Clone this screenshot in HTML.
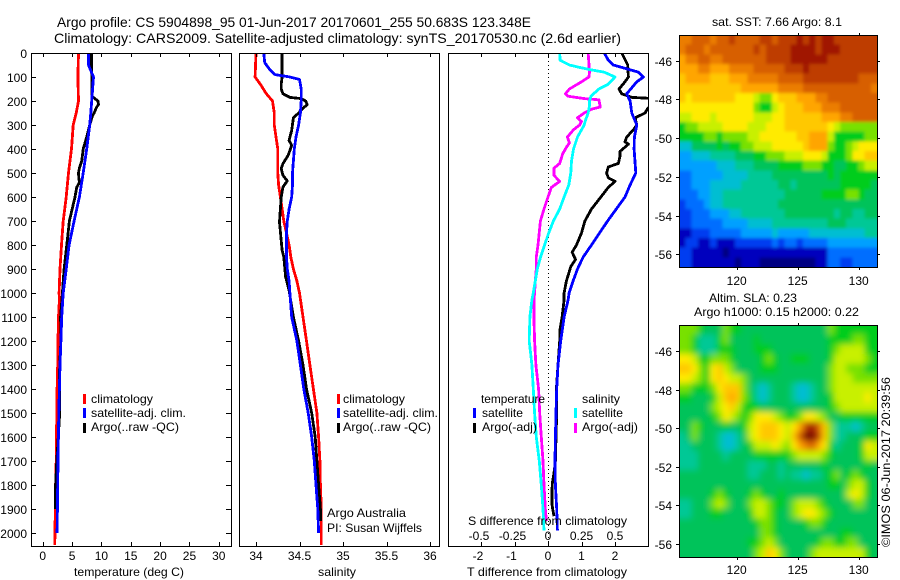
<!DOCTYPE html>
<html>
<head>
<meta charset="utf-8">
<title>Argo profile</title>
<style>
html,body{margin:0;padding:0;background:#fff;}
svg{display:block;}
text{font-family:"Liberation Sans",sans-serif;font-size:12px;fill:#000;}
</style>
</head>
<body>
<svg id="chart" xmlns="http://www.w3.org/2000/svg" width="900" height="580" viewBox="0 0 900 580">
  <defs>
    <clipPath id="clipA"><rect x="31" y="53" width="200" height="493"/></clipPath>
    <clipPath id="clipB"><rect x="239" y="53" width="200" height="493"/></clipPath>
    <clipPath id="clipC"><rect x="448" y="53" width="200" height="493"/></clipPath>
    <clipPath id="clipSst"><rect x="679" y="35" width="198" height="232"/></clipPath>
    <clipPath id="clipSla"><rect x="679" y="325" width="198" height="232"/></clipPath>
    <filter id="sstBlur" filterUnits="userSpaceOnUse" x="655" y="15" width="245" height="275"><feGaussianBlur stdDeviation="1.6"/></filter>
    <filter id="slaBlur" filterUnits="userSpaceOnUse" x="655" y="305" width="245" height="275"><feGaussianBlur stdDeviation="3.2"/></filter>
  </defs>

  <text x="57" y="27" style="font-size:14px" textLength="474" lengthAdjust="spacingAndGlyphs">Argo profile: CS 5904898_95 01-Jun-2017 20170601_255 50.683S 123.348E</text>
  <text x="54" y="43" style="font-size:14px" textLength="567" lengthAdjust="spacingAndGlyphs">Climatology: CARS2009. Satellite-adjusted climatology: synTS_20170530.nc (2.6d earlier)</text>

  <g clip-path="url(#clipSst)"><g id="heatSst" filter="url(#sstBlur)"></g></g>
  <g clip-path="url(#clipSla)"><g id="heatSla" filter="url(#slaBlur)"></g></g>

  <line id="zeroLine" stroke="#000" stroke-width="1" stroke-dasharray="1 3"/>

  <g id="seriesA" clip-path="url(#clipA)"></g>
  <g id="seriesB" clip-path="url(#clipB)"></g>
  <g id="seriesC" clip-path="url(#clipC)"></g>

  <g id="axes" shape-rendering="crispEdges"></g>
  <g id="tickText"></g>

  <text x="74" y="576" textLength="110" lengthAdjust="spacingAndGlyphs">temperature (deg C)</text>
  <text x="318" y="576" textLength="38" lengthAdjust="spacingAndGlyphs">salinity</text>
  <text x="467" y="576" textLength="160" lengthAdjust="spacingAndGlyphs">T difference from climatology</text>
  <text x="468" y="525" textLength="159" lengthAdjust="spacingAndGlyphs">S difference from climatology</text>

  <g>
    <rect x="83" y="394" width="3" height="10" fill="#f00"/>
    <text x="91" y="403" textLength="62" lengthAdjust="spacingAndGlyphs">climatology</text>
    <rect x="83" y="408" width="3" height="10" fill="#00f"/>
    <text x="91" y="417" textLength="95" lengthAdjust="spacingAndGlyphs">satellite-adj. clim.</text>
    <rect x="83" y="423" width="3" height="10" fill="#000"/>
    <text x="91" y="431" textLength="88" lengthAdjust="spacingAndGlyphs">Argo(..raw -QC)</text>
  </g>
  <g>
    <rect x="337" y="394" width="3" height="10" fill="#f00"/>
    <text x="343" y="403" textLength="62" lengthAdjust="spacingAndGlyphs">climatology</text>
    <rect x="337" y="408" width="3" height="10" fill="#00f"/>
    <text x="343" y="417" textLength="95" lengthAdjust="spacingAndGlyphs">satellite-adj. clim.</text>
    <rect x="337" y="423" width="3" height="10" fill="#000"/>
    <text x="343" y="431" textLength="88" lengthAdjust="spacingAndGlyphs">Argo(..raw -QC)</text>
    <text x="327" y="517" textLength="79" lengthAdjust="spacingAndGlyphs">Argo Australia</text>
    <text x="327" y="532" textLength="95" lengthAdjust="spacingAndGlyphs">PI: Susan Wijffels</text>
  </g>
  <g>
    <text x="481" y="403" textLength="64" lengthAdjust="spacingAndGlyphs">temperature</text>
    <rect x="473" y="408" width="3" height="10" fill="#00f"/>
    <text x="482" y="417" textLength="41" lengthAdjust="spacingAndGlyphs">satellite</text>
    <rect x="473" y="423" width="3" height="10" fill="#000"/>
    <text x="482" y="431" textLength="55" lengthAdjust="spacingAndGlyphs">Argo(-adj)</text>
    <text x="582" y="403" textLength="38" lengthAdjust="spacingAndGlyphs">salinity</text>
    <rect x="574" y="408" width="3" height="10" fill="#0ff"/>
    <text x="582" y="417" textLength="41" lengthAdjust="spacingAndGlyphs">satellite</text>
    <rect x="574" y="423" width="3" height="10" fill="#f0f"/>
    <text x="582" y="431" textLength="56" lengthAdjust="spacingAndGlyphs">Argo(-adj)</text>
  </g>

  <text x="712" y="26" textLength="130" lengthAdjust="spacingAndGlyphs">sat. SST: 7.66 Argo: 8.1</text>
  <text x="709" y="302" textLength="88" lengthAdjust="spacingAndGlyphs">Altim. SLA: 0.23</text>
  <text x="694" y="316" textLength="165" lengthAdjust="spacingAndGlyphs">Argo h1000: 0.15 h2000: 0.22</text>
  <text transform="translate(890,547) rotate(-90)" x="0" y="0" textLength="170" lengthAdjust="spacingAndGlyphs">©IMOS 06-Jun-2017 20:39:56</text>
</svg>

<script>
// ---------- Profile data: temperature panel ----------
const depthTicks = [0,100,200,300,400,500,600,700,800,900,1000,1100,1200,1300,1400,1500,1600,1700,1800,1900,2000];
const tempTicks = [0,5,10,15,20,25,30];
const salinityTicks = [34,34.5,35,35.5,36];
const salinityTickText = ['34','34.5','35','35.5','36'];
const tDiffTicks = [-2,-1,0,1,2];
const sDiffTicks = [-0.5,-0.25,0,0.25,0.5];

const tempClimDepth = [0,100,200,250,300,400,450,500,600,700,800,900,1000,1029,1100,1200,1300,1400,1500,1600,1700,1800,1900,2000,2050];
const tempClimValue = [6.1,6.0,6.1,5.7,5.2,4.9,4.65,4.4,4.0,3.5,3.2,2.95,2.8,2.84,2.7,2.6,2.55,2.45,2.4,2.35,2.3,2.2,2.15,2.1,2.05];
const tempSatDepth = [0,50,100,150,200,250,300,400,500,600,700,800,900,1000,1100,1200,1300,1400,1500,1600,1700,1800,1900,2000];
const tempSatValue = [7.8,7.8,8.65,8.5,8.35,8.2,8.0,7.5,6.9,6.25,5.35,4.5,4.0,3.5,3.24,3.1,2.95,2.85,2.75,2.67,2.6,2.55,2.5,2.45];
const tempArgoDepth = [0,100,180,190,200,215,225,250,260,300,350,400,450,480,500,520,540,560,600,700,800,900,1000,1100,1200,1300,1400,1500,1700,1800,1900];
const tempArgoValue = [8.3,8.35,8.35,8.9,9.4,9.5,9.2,8.75,8.5,8.0,7.5,6.9,6.65,6.25,6.1,6.15,6.25,5.8,5.5,4.55,4.1,3.65,3.35,3.05,3.1,2.9,2.85,2.9,2.4,2.2,2.2];

// ---------- Profile data: salinity panel ----------
const salClimDepth = [0,100,130,170,200,250,300,350,400,500,550,600,650,700,750,800,850,900,950,1000,1100,1200,1300,1400,1500,1600,1700,1800,1900,2050];
const salClimValue = [34.0,33.99,34.05,34.12,34.19,34.21,34.21,34.23,34.25,34.25,34.26,34.28,34.3,34.32,34.35,34.38,34.4,34.43,34.47,34.5,34.54,34.58,34.62,34.66,34.7,34.72,34.735,34.74,34.75,34.75];
const salSatDepth = [0,40,70,90,100,110,150,200,250,300,350,400,450,500,550,600,650,700,750,800,850,900,950,1000,1100,1200,1300,1400,1500,1600,1700,1800,1900,2000];
const salSatValue = [34.09,34.1,34.16,34.22,34.39,34.5,34.52,34.52,34.51,34.49,34.46,34.44,34.43,34.42,34.42,34.41,34.38,34.36,34.35,34.35,34.35,34.36,34.38,34.39,34.41,34.47,34.51,34.55,34.6,34.64,34.67,34.69,34.71,34.72];
const salArgoDepth = [0,100,130,150,170,185,190,200,215,230,250,270,322,364,385,426,461,482,510,533,558,600,704,745,822,850,933,989,1058,1100,1200,1300,1400,1500,1600,1700,1800,1900,1950];
const salArgoValue = [34.3,34.3,34.29,34.29,34.31,34.39,34.52,34.57,34.59,34.54,34.49,34.43,34.41,34.38,34.41,34.37,34.31,34.29,34.31,34.36,34.31,34.29,34.27,34.28,34.3,34.32,34.34,34.38,34.41,34.43,34.49,34.54,34.58,34.64,34.68,34.7,34.72,34.74,34.74];

// ---------- Profile data: difference panel ----------
const tDiffSatDepth = [0,30,50,80,100,120,170,200,250,300,350,400,500,550,600,700,800,850,900,950,1000,1029,1100,1200,1300,1400,1500,1600,1700,1800,1900,1990];
const tDiffSatValue = [1.68,1.8,1.95,2.7,2.85,2.65,2.35,2.45,2.5,2.65,2.58,2.57,2.62,2.45,2.3,1.78,1.3,1.05,0.88,0.75,0.63,0.6,0.48,0.38,0.3,0.26,0.24,0.22,0.21,0.22,0.26,0.28];
const tDiffArgoDepth = [0,50,100,120,150,170,185,190,215,230,250,270,300,320,350,370,380,410,430,460,475,500,520,535,560,600,650,700,750,800,830,860,890,950,1000,1029,1100,1150,1200,1300,1400,1500,1600,1700,1750,1790,1820,1880,1900,1930];
const tDiffArgoValue = [2.2,2.38,2.4,2.3,2.12,2.2,2.5,3.2,3.3,2.98,2.9,2.6,2.65,2.55,2.35,2.3,2.4,2.15,2.15,2.1,1.8,1.75,1.8,2.0,1.8,1.58,1.3,1.1,1.0,0.85,0.72,0.82,0.68,0.55,0.48,0.48,0.42,0.36,0.35,0.3,0.25,0.26,0.24,0.22,0.18,0.13,0.12,0.12,0.14,0.18];
const sDiffSatDepth = [0,30,50,60,70,80,100,130,150,180,200,220,250,280,300,350,400,450,500,550,600,650,700,750,800,850,900,950,1000,1029,1100,1200,1250,1300,1400,1500,1600,1700,1800,1900,1990];
const sDiffSatValue = [0.087,0.09,0.16,0.236,0.32,0.42,0.5,0.45,0.38,0.32,0.31,0.31,0.3,0.28,0.27,0.22,0.19,0.175,0.17,0.155,0.12,0.087,0.04,0.005,-0.025,-0.055,-0.08,-0.095,-0.11,-0.12,-0.135,-0.14,-0.13,-0.12,-0.11,-0.1,-0.087,-0.065,-0.05,-0.037,-0.03];
const sDiffArgoDepth = [0,50,80,100,120,150,170,180,190,195,210,225,235,250,270,285,300,320,350,375,390,420,460,480,510,535,560,600,650,700,800,850,900,950,1000,1029,1100,1200,1300,1400,1500,1600,1700,1800,1900,1950];
const sDiffArgoValue = [0.3,0.306,0.31,0.305,0.25,0.16,0.13,0.15,0.27,0.38,0.385,0.39,0.32,0.27,0.22,0.25,0.236,0.19,0.145,0.16,0.14,0.11,0.087,0.045,0.045,0.087,0.025,0,-0.03,-0.057,-0.075,-0.087,-0.087,-0.095,-0.1,-0.105,-0.105,-0.1,-0.09,-0.07,-0.062,-0.05,-0.037,-0.03,-0.02,-0.012];

// ---------- Map data: colour level per 0.5 degree cell, north to south ----------
const lonTicks = [120,125,130];
const latTicks = [46,48,50,52,54,56];
const sstLevels = [
[14,14,15,15,15,14,15,15,16,15,15,15,15,16,16,15,16,16,16,17,16,17,16,17,17,16,16,16,16,16,16,16],
[14,15,15,15,14,15,15,15,15,15,15,15,16,15,16,16,16,16,17,17,17,17,16,17,17,17,16,16,16,16,16,16],
[13,14,14,15,15,14,14,15,15,15,15,15,15,15,16,16,16,16,17,17,17,17,17,17,16,16,16,16,16,16,16,16],
[13,13,13,14,14,13,13,13,14,14,14,14,15,15,15,15,15,16,16,16,17,16,16,16,16,16,16,16,16,16,16,16],
[12,13,13,13,13,12,12,12,13,13,13,14,14,14,14,14,15,15,15,15,16,16,16,16,16,16,16,16,16,15,15,15],
[12,12,12,12,12,12,12,12,12,12,13,13,13,13,13,13,14,14,14,14,15,15,15,15,15,15,15,15,15,15,15,14],
[12,11,12,12,12,12,12,12,12,11,11,11,10,9,9,11,12,12,12,13,13,13,14,14,15,15,15,15,15,15,15,15],
[11,11,11,11,11,11,11,11,11,11,11,11,9,8,8,10,11,12,12,12,13,13,13,14,14,14,15,15,15,15,15,15],
[10,10,11,11,11,10,11,11,11,11,11,11,10,10,10,11,11,12,12,12,12,12,12,13,13,13,14,14,15,15,15,15],
[8,9,9,10,10,10,10,11,11,11,11,10,10,10,11,11,11,12,12,12,12,12,12,12,11,10,9,9,9,9,9,9],
[8,8,8,8,9,9,8,9,9,9,9,10,10,11,11,11,11,11,11,12,12,13,13,13,10,8,8,8,8,8,9,9],
[5,5,7,7,7,7,8,7,8,8,9,9,10,10,10,11,11,11,11,11,12,13,13,13,9,8,8,9,10,11,11,11],
[4,4,5,5,5,6,6,6,6,7,7,7,8,8,9,9,9,10,10,10,11,11,11,10,8,8,8,9,11,11,12,12],
[4,4,4,4,4,4,5,5,5,6,6,6,7,7,7,7,8,8,8,8,9,9,9,8,8,7,7,8,8,9,10,10],
[3,3,4,4,4,4,4,5,5,5,5,6,6,6,6,7,7,7,7,7,7,7,7,7,8,7,8,8,8,8,8,8],
[3,3,4,4,4,5,5,5,5,5,6,6,6,6,6,6,7,7,6,7,7,7,7,7,7,7,8,8,8,8,8,7],
[3,3,3,4,4,5,5,6,6,6,6,6,6,6,6,6,6,7,7,7,7,7,7,8,8,8,8,9,9,8,7,7],
[2,3,3,3,4,5,5,6,6,6,6,6,6,6,6,6,7,7,7,7,7,7,7,7,7,7,7,7,7,7,7,7],
[2,2,3,3,3,4,4,4,5,5,6,6,6,6,6,6,6,7,7,7,7,7,7,7,7,6,7,7,6,6,7,7],
[2,2,3,3,3,3,3,4,4,4,4,5,5,5,5,6,6,6,6,6,6,6,6,6,7,7,7,6,6,6,6,6],
[1,1,2,2,2,3,3,3,3,3,4,4,4,4,4,5,4,4,4,4,4,5,5,5,5,5,5,5,5,5,6,6],
[1,2,2,1,1,2,1,1,1,2,2,2,2,2,2,3,2,3,3,2,3,3,3,3,4,4,4,4,4,4,4,4],
[2,2,1,1,1,1,1,0,1,1,1,1,1,1,1,1,1,1,1,1,1,1,1,1,3,3,3,3,3,3,3,3],
[2,2,1,1,1,1,1,1,1,0,1,1,1,0,0,0,0,0,0,0,0,0,1,1,3,3,2,2,3,3,3,3]
];
const slaLevels = [
[9,9,9,8,7,7,7,9,8,8,7,7,7,7,7,7,7,7,7,7,7,7,7,7,9,8,8,8,8,8,8,8],
[9,9,8,6,6,6,8,9,7,7,7,7,8,7,7,7,7,7,7,7,7,7,7,7,8,8,8,8,9,9,8,8],
[9,9,8,6,6,6,8,8,8,7,7,7,8,8,8,7,7,7,7,7,7,7,7,7,8,9,10,10,10,10,8,8],
[11,11,10,8,8,9,9,9,8,7,7,7,7,8,9,8,7,7,8,8,8,7,7,7,8,10,10,10,10,10,9,8],
[12,12,11,9,8,11,12,10,9,7,7,7,7,8,8,8,7,7,7,7,7,7,7,7,9,10,10,9,9,9,8,8],
[11,11,10,9,8,11,12,11,10,10,9,7,7,7,7,7,7,7,7,7,7,7,7,7,9,10,10,10,9,9,9,9],
[9,9,8,8,8,9,11,12,12,12,9,7,6,5,6,7,7,7,6,5,5,6,7,7,9,10,10,10,10,10,10,10],
[8,8,7,7,7,8,10,12,13,12,9,8,6,5,6,7,7,7,6,5,5,6,7,7,8,10,10,10,10,10,11,10],
[7,7,7,7,7,9,10,11,12,10,8,8,8,7,7,7,7,7,7,7,7,7,7,7,8,9,10,10,10,10,10,10],
[7,7,7,7,7,8,9,11,10,9,8,9,11,11,11,10,9,8,8,9,11,11,10,9,7,7,8,8,8,8,8,8],
[7,7,9,8,7,7,7,8,7,7,8,10,11,12,12,12,11,10,11,13,16,17,15,12,9,6,6,6,5,6,7,7],
[6,7,9,7,7,7,6,5,5,6,7,10,11,12,12,12,11,10,12,15,18,18,16,12,9,6,6,7,7,7,8,8],
[6,6,7,7,7,7,6,5,5,6,7,8,10,10,10,11,10,9,11,13,14,15,13,11,8,6,7,7,7,8,11,10],
[6,6,6,7,7,7,7,6,7,7,7,7,8,8,8,8,8,8,9,10,10,10,10,9,8,7,7,7,7,8,10,10],
[6,6,6,7,7,7,7,7,7,7,7,6,6,6,7,7,6,7,7,7,7,7,7,8,7,7,7,7,7,7,8,7],
[7,7,7,7,7,7,7,7,7,7,7,6,6,7,7,7,6,7,6,6,5,6,6,7,8,9,7,8,9,8,7,7],
[7,7,7,7,7,7,7,7,7,7,7,7,7,7,7,7,7,7,7,7,7,7,7,7,8,8,7,9,10,10,8,7],
[7,7,7,7,7,8,9,8,7,7,7,8,9,8,7,7,8,7,7,7,7,7,7,7,7,7,7,10,11,10,8,7],
[6,6,7,7,7,9,10,9,7,7,7,9,10,10,9,8,8,7,9,10,10,10,9,8,7,7,7,7,9,9,7,7],
[6,6,7,7,7,8,8,7,7,7,7,8,10,10,9,8,7,7,9,10,11,11,10,9,8,7,7,7,7,7,7,7],
[7,7,7,7,7,7,7,7,7,7,7,7,8,9,9,8,7,7,7,7,8,9,9,8,7,7,7,7,7,7,7,7],
[7,7,7,7,7,7,7,7,7,7,7,7,7,9,9,8,7,7,7,7,7,7,7,7,7,7,8,8,7,7,7,7],
[7,7,7,7,7,7,7,7,7,7,7,8,8,9,10,9,7,7,7,7,7,7,8,9,9,8,8,9,9,7,7,7],
[7,7,7,7,7,7,7,7,7,7,7,7,9,10,12,11,9,7,7,7,7,9,10,10,10,10,10,10,10,10,8,7]
];
const colourRamp = ['#000082','#0000be','#003cf0','#006eff','#00a0ff','#00bed2','#00c896','#00c35a','#00cd1e','#78e100','#c8f000','#ffeb00','#ffc800','#ffa500','#eb7d00','#d75f00','#be3c00','#a01400','#780000'];

// ---------- Axis functions ----------
const NS = 'http://www.w3.org/2000/svg';
function depthY(d){ return 53 + d * 0.24; }
function tempX(v){ return 42.7 + v * 5.87; }
function salX(v){ return 256 + (v - 34) * 87; }
function tDiffX(v){ return 548 + v * 33.5; }
function sDiffX(v){ return 548 + v * 134; }
function lonX(v){ return 736.7 + (v - 120) * 12.2; }
function sstLatY(v){ return 60.7 + (v - 46) * 19.36; }
function slaLatY(v){ return 351 + (v - 46) * 19.3; }
function mapColX(c){ return lonX(115.3 + c * 0.5063); }

function make(tag, parent){
  const el = document.createElementNS(NS, tag);
  parent.appendChild(el);
  return el;
}
function drawSeries(parent, xFn, depths, values, colour){
  const el = make('polyline', parent);
  const pts = [];
  for (let i = 0; i < depths.length; i++) { pts.push(xFn(values[i]).toFixed(1) + ',' + depthY(depths[i]).toFixed(1)); }
  el.setAttribute('points', pts.join(' '));
  el.setAttribute('fill', 'none');
  el.setAttribute('stroke', colour);
  el.setAttribute('stroke-width', '2.8');
  el.setAttribute('stroke-linejoin', 'round');
  el.setAttribute('shape-rendering', 'crispEdges');
  return el;
}
function seg(parent, x1, y1, x2, y2){
  const el = make('line', parent);
  el.setAttribute('x1', x1); el.setAttribute('y1', y1);
  el.setAttribute('x2', x2); el.setAttribute('y2', y2);
  el.setAttribute('stroke', '#000');
  el.setAttribute('stroke-width', '1');
  return el;
}
function label(parent, x, y, str, anchor){
  const el = make('text', parent);
  el.setAttribute('x', x); el.setAttribute('y', y);
  el.setAttribute('text-anchor', anchor);
  el.textContent = str;
  return el;
}
function frame(parent, x, y, w, h){
  const el = make('rect', parent);
  el.setAttribute('x', x + 0.5); el.setAttribute('y', y + 0.5);
  el.setAttribute('width', w); el.setAttribute('height', h);
  el.setAttribute('fill', 'none');
  el.setAttribute('stroke', '#000');
  return el;
}

// ---------- Series ----------
const seriesA = document.getElementById('seriesA');
const seriesB = document.getElementById('seriesB');
const seriesC = document.getElementById('seriesC');
let line;
line = drawSeries(seriesA, tempX, tempClimDepth, tempClimValue, '#f00');


line = drawSeries(seriesA, tempX, tempArgoDepth, tempArgoValue, '#000');


line = drawSeries(seriesA, tempX, tempSatDepth, tempSatValue, '#00f');


line = drawSeries(seriesB, salX, salClimDepth, salClimValue, '#f00');


line = drawSeries(seriesB, salX, salArgoDepth, salArgoValue, '#000');


line = drawSeries(seriesB, salX, salSatDepth, salSatValue, '#00f');


line = drawSeries(seriesC, tDiffX, tDiffArgoDepth, tDiffArgoValue, '#000');


line = drawSeries(seriesC, tDiffX, tDiffSatDepth, tDiffSatValue, '#00f');


line = drawSeries(seriesC, sDiffX, sDiffArgoDepth, sDiffArgoValue, '#f0f');


line = drawSeries(seriesC, sDiffX, sDiffSatDepth, sDiffSatValue, '#0ff');



const zero = document.getElementById('zeroLine');
zero.setAttribute('x1', tDiffX(0) + 0.5); zero.setAttribute('x2', tDiffX(0) + 0.5);
zero.setAttribute('y1', 53); zero.setAttribute('y2', 546);

// ---------- Heatmaps ----------
// Outermost cells are extended past the clip so the blur does not fade at the frame.
function mapCell(parent, row, col, level, top, rowH, rows, cols){
  const r = make('rect', parent);
  let x0 = mapColX(col);
  let x1 = mapColX(col + 1) + 0.4;
  let y0 = top + row * rowH;
  let y1 = y0 + rowH + 0.4;
  if (col === 0) { x0 -= 12; }
  if (col === cols - 1) { x1 += 12; }
  if (row === 0) { y0 -= 12; }
  if (row === rows - 1) { y1 += 12; }
  r.setAttribute('x', x0.toFixed(2));
  r.setAttribute('y', y0.toFixed(2));
  r.setAttribute('width', (x1 - x0).toFixed(2));
  r.setAttribute('height', (y1 - y0).toFixed(2));
  r.setAttribute('fill', colourRamp[Math.max(0, Math.min(colourRamp.length - 1, Math.round(level)))]);
  r.setAttribute('shape-rendering', 'crispEdges');
  return r;
}
const heatSst = document.getElementById('heatSst');
sstLevels.forEach(function(rowVals, row){
  rowVals.forEach(function(level, col){
    const cell = mapCell(heatSst, row, col, level, 35, 232 / sstLevels.length, sstLevels.length, rowVals.length);
    
    
  });
});
const heatSla = document.getElementById('heatSla');
slaLevels.forEach(function(rowVals, row){
  rowVals.forEach(function(level, col){
    const cell = mapCell(heatSla, row, col, level, 325, 232 / slaLevels.length, slaLevels.length, rowVals.length);
    
    
  });
});

// ---------- Axes ----------
const axes = document.getElementById('axes');
const tickText = document.getElementById('tickText');
let box;
box = frame(axes, 31, 53, 200, 493);


box = frame(axes, 239, 53, 200, 493);


box = frame(axes, 448, 53, 200, 493);


box = frame(axes, 679, 35, 198, 232);


box = frame(axes, 679, 325, 198, 232);



depthTicks.forEach(function(d){
  const yy = Math.round(depthY(d)) + 0.5;
  const a = seg(axes, 31, yy, 36, yy);
  
  
  const b = seg(axes, 226, yy, 231, yy);
  
  
  const t = label(tickText, 27, yy + 4.5, String(d), 'end');
  
  
});
tempTicks.forEach(function(v){
  const xx = Math.round(tempX(v)) + 0.5;
  const a = seg(axes, xx, 53, xx, 57);
  
  
  const b = seg(axes, xx, 542, xx, 546);
  
  
  const t = label(tickText, tempX(v), 560, String(v), 'middle');
  
  
});
salinityTicks.forEach(function(v, i){
  const xx = Math.round(salX(v)) + 0.5;
  const a = seg(axes, xx, 53, xx, 57);
  
  
  const b = seg(axes, xx, 542, xx, 546);
  
  
  const t = label(tickText, salX(v), 560, salinityTickText[i], 'middle');
  
  
});
tDiffTicks.forEach(function(v){
  const xx = Math.round(tDiffX(v)) + 0.5;
  const a = seg(axes, xx, 53, xx, 57);
  
  
  const b = seg(axes, xx, 542, xx, 546);
  
  
  const t = label(tickText, tDiffX(v) - (v < 0 ? 3 : 0), 560, v < 0 ? '-' + Math.abs(v) : String(v), 'middle');
  
  
});
sDiffTicks.forEach(function(v){
  const t = label(tickText, sDiffX(v) - (v < 0 ? 2 : 0), 540, v < 0 ? '-' + Math.abs(v) : String(v), 'middle');
  
  
});
lonTicks.forEach(function(v){
  const xx = Math.round(lonX(v)) + 0.5;
  const a = seg(axes, xx, 33, xx, 35);
  
  
  const b = seg(axes, xx, 267, xx, 270);
  
  
  const c = seg(axes, xx, 323, xx, 325);
  
  
  const d = seg(axes, xx, 557, xx, 560);
  
  
  const t1 = label(tickText, lonX(v), 285, String(v), 'middle');
  
  
  const t2 = label(tickText, lonX(v), 574, String(v), 'middle');
  
  
});
latTicks.forEach(function(v){
  const y1 = Math.round(sstLatY(v)) + 0.5;
  const a = seg(axes, 676, y1, 679, y1);
  
  
  const b = seg(axes, 877, y1, 880, y1);
  
  
  const t1 = label(tickText, 672, y1 + 4.5, '-' + v, 'end');
  
  
  const y2 = Math.round(slaLatY(v)) + 0.5;
  const c = seg(axes, 676, y2, 679, y2);
  
  
  const d = seg(axes, 877, y2, 880, y2);
  
  
  const t2 = label(tickText, 672, y2 + 4.5, '-' + v, 'end');
  
  
});
</script>
</body>
</html>
